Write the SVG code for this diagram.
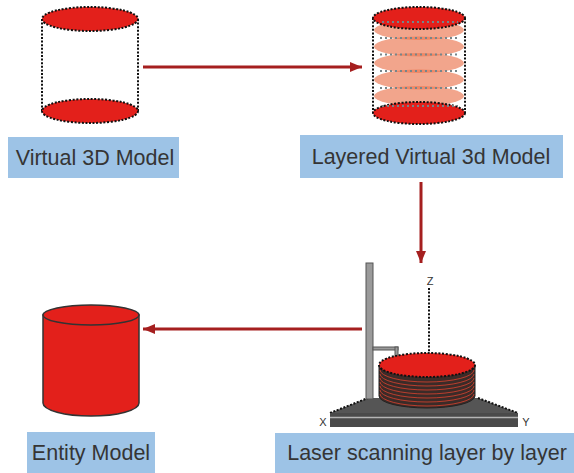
<svg xmlns="http://www.w3.org/2000/svg" width="574" height="473" viewBox="0 0 574 473">
  <style>
    .label-box { fill: #9dc3e6; }
    .label-text { font-family: "Liberation Sans", Arial, sans-serif; font-size: 21.5px; fill: #353535; text-anchor: middle; }
    .dotted { fill: none; stroke: #111; stroke-width: 2; stroke-dasharray: 2 1.6; }
    .cap { fill: #e3201b; stroke: #111; stroke-width: 2; stroke-dasharray: 2 1.6; }
    .layer { fill: #ec7a55; fill-opacity: 0.68; }
    .layer-line { stroke: #76858a; stroke-width: 2; stroke-dasharray: 2 3; fill: none; }
    .link { stroke: #a51f1f; stroke-width: 3; fill: none; }
    .axis { font-family: "Liberation Sans", Arial, sans-serif; font-size: 11px; fill: #333; text-anchor: middle; }
    .steel { fill: #9a9a9a; stroke: #555; stroke-width: 1; }
  </style>
  <defs>
    <marker id="head" markerUnits="userSpaceOnUse" markerWidth="12" markerHeight="10" refX="12" refY="5" orient="auto">
      <path d="M0,0 L12,5 L0,10 Z" fill="#a51f1f"/>
    </marker>
  </defs>

  <rect width="574" height="473" fill="#ffffff"/>

  <!-- connectors -->
  <g id="connectors">
    <line class="link" x1="143" y1="67" x2="362" y2="67" marker-end="url(#head)"/>
    <line class="link" x1="421" y1="182" x2="421" y2="263" marker-end="url(#head)"/>
    <line class="link" x1="362" y1="329" x2="143" y2="329" marker-end="url(#head)"/>
  </g>

  <!-- wireframe model -->
  <g id="virtual-model">
    <line class="dotted" x1="42" y1="19" x2="42" y2="111"/>
    <line class="dotted" x1="138" y1="19" x2="138" y2="111"/>
    <ellipse class="cap" cx="90" cy="19" rx="48" ry="12"/>
    <ellipse class="cap" cx="90" cy="111" rx="48" ry="12"/>
  </g>

  <!-- sliced model -->
  <g id="layered-model">
    <line class="dotted" x1="373" y1="18" x2="373" y2="113"/>
    <line class="dotted" x1="465" y1="18" x2="465" y2="113"/>
    <ellipse class="layer" cx="419" cy="30" rx="45" ry="10"/>
    <ellipse class="layer" cx="419" cy="46.5" rx="45" ry="10"/>
    <ellipse class="layer" cx="419" cy="63" rx="45" ry="10"/>
    <ellipse class="layer" cx="419" cy="79.5" rx="45" ry="10"/>
    <ellipse class="layer" cx="419" cy="96" rx="45" ry="10"/>
    <ellipse class="cap" cx="419" cy="18" rx="46" ry="11"/>
    <ellipse class="cap" cx="419" cy="113" rx="46" ry="11"/>
    <line class="layer-line" x1="382" y1="22" x2="458" y2="22"/>
    <line class="layer-line" x1="380" y1="38" x2="460" y2="38"/>
    <line class="layer-line" x1="380" y1="54.5" x2="460" y2="54.5"/>
    <line class="layer-line" x1="380" y1="71" x2="460" y2="71"/>
    <line class="layer-line" x1="380" y1="88" x2="460" y2="88"/>
    <line class="layer-line" x1="382" y1="106" x2="458" y2="106"/>
  </g>

  <!-- scanning rig -->
  <g id="laser-scanning">
    <polygon points="330,413 368,398 478,398 518,413" fill="#555555"/>
    <line class="dotted" x1="330" y1="413" x2="368" y2="398"/>
    <line class="dotted" x1="478" y1="398" x2="518" y2="413"/>
    <rect x="330" y="413" width="188" height="14" fill="#4a4a4a"/>
    <line x1="330" y1="417.5" x2="518" y2="417.5" stroke="#b4b4b4" stroke-width="1.5"/>
    <rect class="steel" x="366" y="263" width="7" height="136"/>
    <rect class="steel" x="373" y="347" width="25" height="3"/>
    <rect class="steel" x="395" y="347" width="3" height="9"/>
    <!-- stacked slices -->
    <path d="M379,365 L379,396 A48,12 0 0 0 475,396 L475,365 Z" fill="#3b2b28" stroke="#222" stroke-width="1"/>
    <g fill="none" stroke="#c8402e" stroke-width="0.9">
      <path d="M380,370 A47,12 0 0 0 474,370"/>
      <path d="M380,374 A47,12 0 0 0 474,374"/>
      <path d="M380,378 A47,12 0 0 0 474,378"/>
      <path d="M380,382 A47,12 0 0 0 474,382"/>
      <path d="M380,386 A47,12 0 0 0 474,386"/>
      <path d="M380,390 A47,12 0 0 0 474,390"/>
      <path d="M380,394 A47,12 0 0 0 474,394"/>
    </g>
    <ellipse class="cap" cx="427" cy="365" rx="48" ry="12"/>
    <line class="dotted" x1="429" y1="288" x2="429" y2="353"/>
    <text class="axis" x="430" y="285">Z</text>
    <text class="axis" x="323" y="426">X</text>
    <text class="axis" x="526" y="426">Y</text>
  </g>

  <!-- finished part -->
  <g id="entity-model">
    <path d="M43,315 L43,403 A48,13 0 0 0 139,403 L139,315 Z" fill="#e3201b" stroke="#333" stroke-width="1.5"/>
    <ellipse cx="91" cy="315" rx="48" ry="10" fill="#e3201b" stroke="#333" stroke-width="1.5"/>
  </g>

  <!-- captions -->
  <g id="label-virtual">
    <rect class="label-box" x="8" y="137" width="171" height="41"/>
    <text class="label-text" x="95" y="165">Virtual 3D Model</text>
  </g>
  <g id="label-layered">
    <rect class="label-box" x="300" y="135" width="263" height="43"/>
    <text class="label-text" x="431" y="164">Layered Virtual 3d Model</text>
  </g>
  <g id="label-entity">
    <rect class="label-box" x="27" y="432" width="128" height="41"/>
    <text class="label-text" x="91" y="460">Entity Model</text>
  </g>
  <g id="label-laser">
    <rect class="label-box" x="275" y="433" width="299" height="40"/>
    <text class="label-text" x="427" y="460">Laser scanning layer by layer</text>
  </g>
</svg>
